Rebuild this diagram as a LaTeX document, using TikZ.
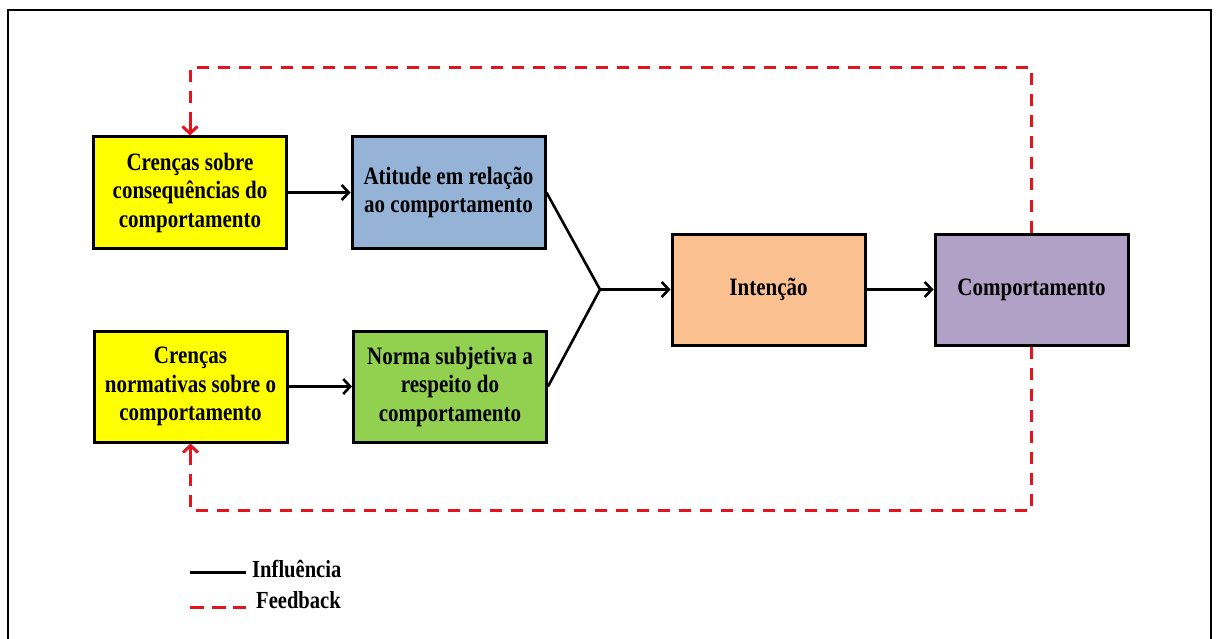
\documentclass[tikz,border=0pt]{standalone}
\usepackage{fontspec}
\setmainfont{Liberation Serif}[FakeStretch=0.84]
\usetikzlibrary{arrows.meta}
\definecolor{boxyellow}{HTML}{FFFF00}
\definecolor{boxblue}{HTML}{95B3D7}
\definecolor{boxgreen}{HTML}{92D050}
\definecolor{boxorange}{HTML}{FAC090}
\definecolor{boxpurple}{HTML}{B2A1C7}
\definecolor{fbred}{HTML}{E3141E}
\begin{document}
\begin{tikzpicture}[x=1pt,y=-1pt,
  box/.style={draw=black, line width=3pt, minimum width=193pt, minimum height=111pt,
    align=center, inner sep=2pt, text=black,
    font=\fontsize{25}{28.5}\selectfont\bfseries},
  infl/.style={draw=black, line width=2.6pt, -{Straight Barb[length=7pt,width=15pt]}},
  fb/.style={draw=fbred, line width=3pt, dash pattern=on 12pt off 9pt},
  fbtip/.style={-{Straight Barb[length=7pt,width=15pt]}},
  legtext/.style={anchor=west, font=\fontsize{24.5}{26}\selectfont\bfseries, inner sep=0pt}]
  \useasboundingbox (0,0) rectangle (1217,639);
  % outer frame
  \draw[line width=2pt] (8,650) -- (8,10) -- (1211,10) -- (1211,650);

  % boxes
  \node[box, fill=boxyellow] (cren1) at (190,192.5) {Crenças sobre\\consequências do\\comportamento};
  \node[box, fill=boxblue]   (atit)  at (448.5,192.5) {Atitude em relação\\ao comportamento};
  \node[box, fill=boxyellow] (cren2) at (190.5,386.5) {Crenças\\normativas sobre o\\comportamento};
  \node[box, fill=boxgreen]  (norma) at (450,386.5) {Norma subjetiva a\\respeito do\\comportamento};
  \node[box, fill=boxorange] (inten) at (768.5,289.5) {Intenção};
  \node[box, fill=boxpurple] (comp)  at (1031.5,289.5) {Comportamento};

  % influence connectors
  \coordinate (join) at (600,289.5);
  \draw[infl] (cren1) -- (atit);
  \draw[infl] (cren2) -- (norma);
  \draw[line width=2.6pt] (atit.east) -- (join) -- (norma.east);
  \draw[infl] (join) -- (inten);
  \draw[infl] (inten) -- (comp);

  % feedback loops
  \coordinate (fbtop) at (0,68);
  \coordinate (fbbot) at (0,510);
  \draw[fb] (comp.north) -- (comp.north |- fbtop) -- (cren1.north |- fbtop) -- ([yshift=8pt]cren1.north);
  \draw[fbred, line width=3pt, fbtip] ([yshift=14pt]cren1.north) -- (cren1.north);
  \draw[fb] (comp.south) -- (comp.south |- fbbot) -- (cren2.south |- fbbot) -- ([yshift=-8pt]cren2.south);
  \draw[fbred, line width=3pt, fbtip] ([yshift=-14pt]cren2.south) -- (cren2.south);

  % legend
  \coordinate (l1a) at (190,572);
  \coordinate (l1b) at (246,572);
  \coordinate (l2a) at (190,607);
  \coordinate (l2b) at (246,607);
  \draw[line width=3pt] (l1a) -- (l1b);
  \draw[draw=fbred, line width=3pt, dash pattern=on 14pt off 7.5pt] (l2a) -- (l2b);
  \node[legtext] (legi) at (252,569) {Influência};
  \node[legtext] (legf) at (256,600) {Feedback};
\end{tikzpicture}
\end{document}
